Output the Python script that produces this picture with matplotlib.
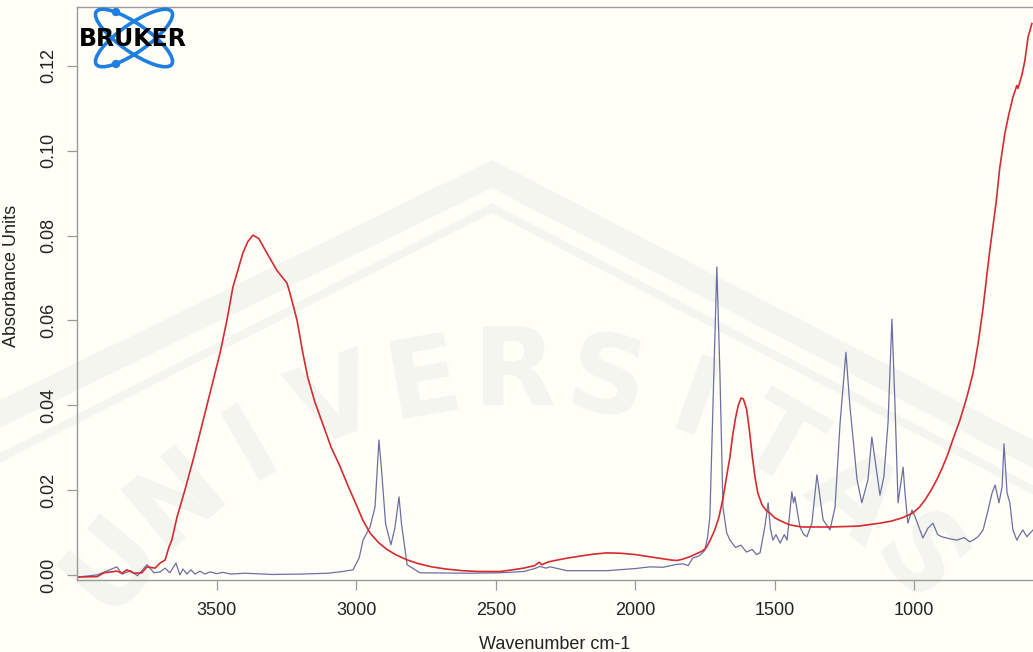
import numpy as np
import matplotlib
matplotlib.use("Agg")
import matplotlib.pyplot as plt
import matplotlib.transforms as mtransforms
from matplotlib.patches import Ellipse, Circle
from matplotlib.lines import Line2D

# sample spectrum (sharp organic bands)
blue_wn = [3999, 3930, 3859, 3840, 3810, 3785, 3751, 3726, 3704, 3686, 3669, 3647,
           3633, 3622, 3608, 3593, 3579, 3561, 3543, 3525, 3500, 3480, 3450, 3400,
           3300, 3200, 3100, 3050, 3012, 2990, 2976, 2951, 2933, 2925, 2919, 2910,
           2895, 2876, 2862, 2847, 2838, 2818, 2772, 2600, 2485, 2400, 2360, 2341,
           2320, 2305, 2245, 2100, 2000, 1947, 1900, 1850, 1828, 1810, 1793, 1770,
           1750, 1740, 1732, 1721, 1707, 1696, 1685, 1672, 1660, 1640, 1620, 1601,
           1580, 1565, 1552, 1535, 1523, 1515, 1506, 1495, 1480, 1465, 1455, 1438,
           1432, 1427, 1409, 1395, 1384, 1366, 1348, 1326, 1301, 1283, 1265, 1244,
           1230, 1204, 1187, 1165, 1151, 1133, 1122, 1108, 1093, 1079, 1068, 1057,
           1039, 1032, 1022, 1007, 996, 968, 950, 932, 915, 900, 870, 846, 820, 800,
           788, 770, 752, 735, 720, 709, 695, 684, 677, 666, 656, 645, 631, 620, 609,
           595, 573]
blue_abs = [-0.0005, 0.0000, 0.0019, 0.0002, 0.0010, -0.0002, 0.0024, 0.0005, 0.0007,
            0.0016, 0.0005, 0.0028, 0.0000, 0.0014, 0.0002, 0.0012, 0.0002, 0.0009,
            0.0002, 0.0007, 0.0003, 0.0006, 0.0002, 0.0004, 0.0001, 0.0002, 0.0004,
            0.0008, 0.0012, 0.0040, 0.0082, 0.0113, 0.0160, 0.0250, 0.0318, 0.0250,
            0.0120, 0.0071, 0.0110, 0.0184, 0.0120, 0.0024, 0.0005, 0.0004, 0.0005,
            0.0008, 0.0015, 0.0020, 0.0016, 0.0019, 0.0010, 0.0010, 0.0015, 0.0019,
            0.0018, 0.0025, 0.0026, 0.0022, 0.0040, 0.0045, 0.0058, 0.0090, 0.0137,
            0.0400, 0.0726, 0.0476, 0.0160, 0.0100, 0.0082, 0.0065, 0.0070, 0.0054,
            0.0060, 0.0048, 0.0052, 0.0113, 0.0170, 0.0110, 0.0082, 0.0095, 0.0075,
            0.0095, 0.0082, 0.0196, 0.0170, 0.0184, 0.0113, 0.0095, 0.0090, 0.0122,
            0.0236, 0.0130, 0.0106, 0.0160, 0.0358, 0.0525, 0.0400, 0.0224, 0.0170,
            0.0224, 0.0325, 0.0240, 0.0188, 0.0231, 0.0358, 0.0603, 0.0400, 0.0170,
            0.0254, 0.0193, 0.0122, 0.0153, 0.0137, 0.0087, 0.0110, 0.0122, 0.0095,
            0.0090, 0.0085, 0.0082, 0.0088, 0.0078, 0.0082, 0.0090, 0.0106, 0.0150,
            0.0193, 0.0212, 0.0170, 0.0207, 0.0309, 0.0193, 0.0170, 0.0106, 0.0082,
            0.0095, 0.0106, 0.0090, 0.0106]

# water-like spectrum (broad bands)
red_wn = [3999, 3930, 3905, 3859, 3841, 3823, 3798, 3769, 3751, 3722, 3704, 3686,
          3672, 3662, 3643, 3615, 3586, 3555, 3525, 3489, 3464, 3443, 3407, 3390,
          3371, 3350, 3321, 3285, 3249, 3238, 3213, 3192, 3174, 3150, 3120, 3090,
          3060, 3030, 3000, 2976, 2950, 2920, 2890, 2860, 2820, 2780, 2730, 2680,
          2620, 2560, 2485, 2440, 2400, 2360, 2345, 2335, 2310, 2280, 2240, 2200,
          2150, 2100, 2050, 2000, 1950, 1900, 1870, 1850, 1830, 1800, 1780, 1760,
          1745, 1731, 1715, 1700, 1685, 1670, 1660, 1650, 1640, 1630, 1620, 1612,
          1600, 1590, 1580, 1570, 1560, 1545, 1530, 1517, 1500, 1480, 1460, 1445,
          1420, 1400, 1301, 1200, 1122, 1080, 1040, 1004, 980, 960, 940, 920, 900,
          880, 860, 835, 810, 788, 770, 752, 738, 727, 717, 705, 692, 674, 659, 645,
          631, 627, 613, 602, 591, 577]
red_abs = [-0.0005, -0.0004, 0.0005, 0.0009, 0.0004, 0.0012, 0.0004, 0.0005, 0.0019,
           0.0016, 0.0028, 0.0035, 0.0066, 0.0082, 0.0137, 0.0200, 0.0270, 0.0350,
           0.0429, 0.0523, 0.0601, 0.0678, 0.0759, 0.0785, 0.0801, 0.0793, 0.0759,
           0.0718, 0.0688, 0.0664, 0.0601, 0.0523, 0.0465, 0.0410, 0.0355, 0.0300,
           0.0258, 0.0210, 0.0165, 0.0128, 0.0098, 0.0076, 0.0060, 0.0048, 0.0036,
           0.0027, 0.0019, 0.0014, 0.0010, 0.0008, 0.0008, 0.0012, 0.0016, 0.0022,
           0.0030, 0.0024, 0.0031, 0.0035, 0.0040, 0.0044, 0.0049, 0.0052, 0.0051,
           0.0048, 0.0043, 0.0038, 0.0035, 0.0034, 0.0037, 0.0044, 0.0050, 0.0056,
           0.0064, 0.0082, 0.0105, 0.0135, 0.0180, 0.0240, 0.0278, 0.0330, 0.0370,
           0.0400, 0.0417, 0.0415, 0.0390, 0.0340, 0.0280, 0.0230, 0.0193, 0.0165,
           0.0152, 0.0146, 0.0135, 0.0128, 0.0122, 0.0118, 0.0115, 0.0113, 0.0113,
           0.0115, 0.0122, 0.0127, 0.0135, 0.0146, 0.0160, 0.0177, 0.0198, 0.0222,
           0.0250, 0.0282, 0.0320, 0.0365, 0.0420, 0.0476, 0.0545, 0.0630, 0.0710,
           0.0770, 0.0820, 0.0880, 0.0961, 0.1041, 0.1088, 0.1126, 0.1154, 0.1147,
           0.1178, 0.1213, 0.1267, 0.1300]

x_ticks = [3500, 3000, 2500, 2000, 1500, 1000]
y_ticks = [0.00, 0.02, 0.04, 0.06, 0.08, 0.10, 0.12]

W, H = 1033, 652
bg = "#fffff8"
mark = "#f5f5ef"

plt.rcParams["font.family"] = ["Liberation Sans", "DejaVu Sans"]
fig = plt.figure(figsize=(W / 100, H / 100), dpi=100, facecolor=bg)

# pixel coords measured from the top-left corner
px = mtransforms.Affine2D().scale(1 / W, -1 / H).translate(0, 1) + fig.transFigure

# faint university watermark behind the plot
for pts, lw in [([(0, 414), (492, 174), (1033, 454)], 18),
                ([(0, 458), (492, 208), (1033, 490)], 6)]:
    xs, ys = zip(*pts)
    fig.add_artist(Line2D(xs, ys, transform=px, color=mark, lw=lw, zorder=-5,
                          solid_joinstyle="miter"))
word = "UNIVERSITAS"
cx, cy, r = 515, 900, 525
for i, ch in enumerate(word):
    ang = np.radians((i - 5) * 10.0)
    fig.text(cx + r * np.sin(ang), cy - r * np.cos(ang), ch, transform=px,
             rotation=-np.degrees(ang), ha="center", va="center",
             fontsize=78, fontweight="bold", color=mark, zorder=-4,
             family="DejaVu Sans")

ax = fig.add_axes([77 / W, (H - 580) / H, (W - 77) / W, 573 / H])
ax.patch.set_visible(False)

ax.plot(blue_wn, blue_abs, color="#6b6fa3", lw=0.9)
ax.plot(red_wn, red_abs, color="#d42b32", lw=1.2)

ax.set_xlim(4002, 573)
ax.set_ylim(-0.0012, 0.1339)
ax.set_xticks(x_ticks)
ax.set_yticks(y_ticks)
ax.set_yticklabels([f"{v:.2f}" for v in y_ticks])

for side in ["left", "top", "bottom"]:
    ax.spines[side].set_color("#9a9a9a")
    ax.spines[side].set_linewidth(1.0)
ax.spines["right"].set_visible(False)

ax.tick_params(axis="both", direction="out", length=7.5, width=0.9,
               color="#9a9a9a", labelsize=13, labelcolor="#222222")
ax.tick_params(axis="x", pad=8)
ax.tick_params(axis="y", pad=7, labelrotation=90)
for lbl in ax.get_yticklabels():
    lbl.set_va("center")

ax.set_xlabel("Wavenumber cm-1", fontsize=13, color="#222222")
ax.set_ylabel("Absorbance Units", fontsize=13, color="#222222")
ax.xaxis.set_label_coords(0.5, -0.098)
ax.yaxis.set_label_coords(-0.06, 0.53)

# Bruker logo
logo_blue = "#1f7fe0"
for ang in (35, -35):
    fig.add_artist(Ellipse((134, 38), 92, 28, angle=ang, transform=px,
                           fill=False, ec=logo_blue, lw=2.6, zorder=5))
for dot in [(116, 12), (116, 64)]:
    fig.add_artist(Circle(dot, 3.5, transform=px, color=logo_blue, zorder=6))
fig.text(133, 39, "BRUKER", transform=px, ha="center", va="center",
         fontsize=17, fontweight="bold", color="black", zorder=7,
         family="DejaVu Sans")

fig.savefig("out.png", dpi=100, facecolor=bg)
